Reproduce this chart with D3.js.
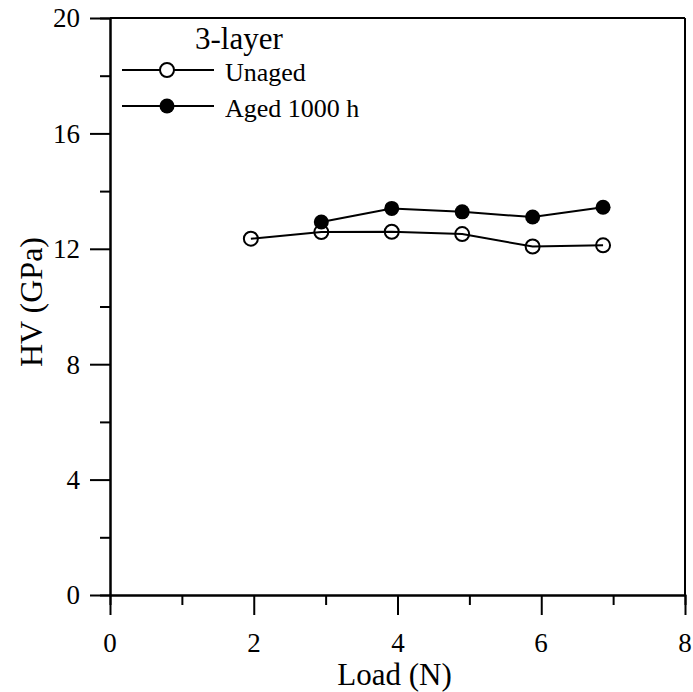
<!DOCTYPE html>
<html>
<head>
<meta charset="utf-8">
<script src="https://cdn.jsdelivr.net/npm/d3@7"></script>
<style>
  body { margin: 0; background: #fff; }
  svg { display: block; }
  #vis { position: relative; width: 693px; height: 692px; }
  .lbl {
    position: absolute;
    font-family: "Liberation Serif", "Times New Roman", serif;
    font-size: 32px;
    line-height: 32px;
    white-space: nowrap;
    color: #000;
    transform-origin: 0 0;
  }
</style>
</head>
<body>
<div id="vis"></div>
<script>
// data
const LOADS = [1.96, 2.94, 3.92, 4.9, 5.88, 6.86];
const UNAGED = [12.35, 12.58, 12.59, 12.51, 12.08, 12.12];
const AGED_LOADS = [2.94, 3.92, 4.9, 5.88, 6.86];
const AGED = [12.93, 13.4, 13.28, 13.1, 13.44];
const X_TICKS = [0, 2, 4, 6, 8];
const Y_TICKS = [0, 4, 8, 12, 16, 20];
const SERIES_NAMES = ["Unaged", "Aged 1000 h"];

const FONT = "Liberation Serif, Times New Roman, Times, serif";

// frame
const FRAME_WIDTH = 693;
const FRAME_HEIGHT = 692;
const MARGINS = {left: 110, right: 8, top: 18, bottom: 97};
const VIS_WIDTH = FRAME_WIDTH - MARGINS.left - MARGINS.right;
const VIS_HEIGHT = FRAME_HEIGHT - MARGINS.top - MARGINS.bottom;

const VIS = d3.select("#vis");
const FRAME = VIS.append("svg")
  .attr("width", FRAME_WIDTH)
  .attr("height", FRAME_HEIGHT);

// scales already include the margins so texts can sit at the svg root
const X_SCALE = d3.scaleLinear().domain([0, 8]).range([MARGINS.left, MARGINS.left + VIS_WIDTH]);
const Y_SCALE = d3.scaleLinear().domain([0, 20]).range([MARGINS.top + VIS_HEIGHT, MARGINS.top]);

// adds a text straight onto the svg (large sizes)
function addText(x, y, size, str, anchor) {
  return FRAME.append("text")
    .attr("x", x)
    .attr("y", y)
    .attr("font-family", FONT)
    .attr("font-size", size)
    .attr("text-anchor", anchor || "start")
    .attr("fill", "#000")
    .text(str);
}

// small labels: html text at 32px, scaled down, baseline placed at y
function addLabel(x, y, size, str, anchor) {
  const s = size / 32;
  const shift = anchor === "middle" ? " translate(-50%,0)" : anchor === "end" ? " translate(-100%,0)" : "";
  return VIS.append("div")
    .attr("class", "lbl")
    .style("left", x + "px")
    .style("top", (y - s * 26.8) + "px")
    .style("transform", "scale(" + s + ")" + shift)
    .text(str);
}

// top and right frame lines
FRAME.append("line")
  .attr("x1", X_SCALE(0)).attr("x2", X_SCALE(8)).attr("y1", Y_SCALE(20)).attr("y2", Y_SCALE(20))
  .attr("stroke", "#000").attr("stroke-width", 2);
FRAME.append("line")
  .attr("x1", X_SCALE(8)).attr("x2", X_SCALE(8)).attr("y1", Y_SCALE(20)).attr("y2", Y_SCALE(0))
  .attr("stroke", "#000").attr("stroke-width", 2);

// minor ticks
FRAME.append("g").attr("transform", "translate(0," + Y_SCALE(0) + ")")
  .call(d3.axisBottom(X_SCALE).tickValues(d3.range(1, 8, 2)).tickSize(10).tickFormat(""));
FRAME.append("g").attr("transform", "translate(" + X_SCALE(0) + ",0)")
  .call(d3.axisLeft(Y_SCALE).tickValues(d3.range(2, 20, 4)).tickSize(10).tickFormat(""));

// major ticks (labels are drawn separately below)
FRAME.append("g").attr("transform", "translate(0," + Y_SCALE(0) + ")")
  .call(d3.axisBottom(X_SCALE).tickValues(X_TICKS).tickSize(20).tickSizeOuter(0).tickFormat(""));
FRAME.append("g").attr("transform", "translate(" + X_SCALE(0) + ",0)")
  .call(d3.axisLeft(Y_SCALE).tickValues(Y_TICKS).tickSize(20).tickSizeOuter(0).tickFormat(""));

FRAME.selectAll(".domain, .tick line")
  .attr("stroke", "#000")
  .attr("stroke-width", 2);
FRAME.selectAll(".tick text").remove();

// axis titles
addText(MARGINS.left + VIS_WIDTH / 2 - 3, 685, 31, "Load (N)", "middle");
addText(0, 0, 32, "HV (GPa)", "middle")
  .attr("transform", "translate(42,302) rotate(-90)");

// legend title
addText(195, 49, 31, "3-layer");

// tick labels
X_TICKS.forEach((t) => addLabel(X_SCALE(t), Y_SCALE(0) + 57, 27, t, "middle"));
Y_TICKS.forEach((t) => addLabel(X_SCALE(0) - 30, Y_SCALE(t) + 9, 27, t, "end"));

// lines
const line = d3.line()
  .x((d) => X_SCALE(d[0]))
  .y((d) => Y_SCALE(d[1]));

const unagedData = LOADS.map((d, i) => [d, UNAGED[i]]);
const agedData = AGED_LOADS.map((d, i) => [d, AGED[i]]);

FRAME.append("path").datum(unagedData)
  .attr("d", line).attr("fill", "none")
  .attr("stroke", "#000").attr("stroke-width", 2);
FRAME.append("path").datum(agedData)
  .attr("d", line).attr("fill", "none")
  .attr("stroke", "#000").attr("stroke-width", 2);

// markers
FRAME.selectAll(".aged")
  .data(agedData)
  .enter()
  .append("circle")
    .attr("class", "aged")
    .attr("cx", (d) => X_SCALE(d[0]))
    .attr("cy", (d) => Y_SCALE(d[1]))
    .attr("r", 7.5)
    .attr("fill", "#000");

FRAME.selectAll(".unaged")
  .data(unagedData)
  .enter()
  .append("circle")
    .attr("class", "unaged")
    .attr("cx", (d) => X_SCALE(d[0]))
    .attr("cy", (d) => Y_SCALE(d[1]))
    .attr("r", 7)
    .attr("fill", "none")
    .attr("stroke", "#000")
    .attr("stroke-width", 2);

// legend entries
SERIES_NAMES.forEach((name, i) => {
  const ly = 70 + i * 36;
  FRAME.append("line")
    .attr("x1", 122).attr("x2", 214).attr("y1", ly).attr("y2", ly)
    .attr("stroke", "#000").attr("stroke-width", 2);
  FRAME.append("circle")
    .attr("cx", 167).attr("cy", ly)
    .attr("r", i === 0 ? 7 : 7.5)
    .attr("fill", i === 0 ? "#fff" : "#000")
    .attr("stroke", "#000")
    .attr("stroke-width", i === 0 ? 2 : 0);
  addLabel(225, ly + 11, 26, name, "start");
});
</script>
</body>
</html>
